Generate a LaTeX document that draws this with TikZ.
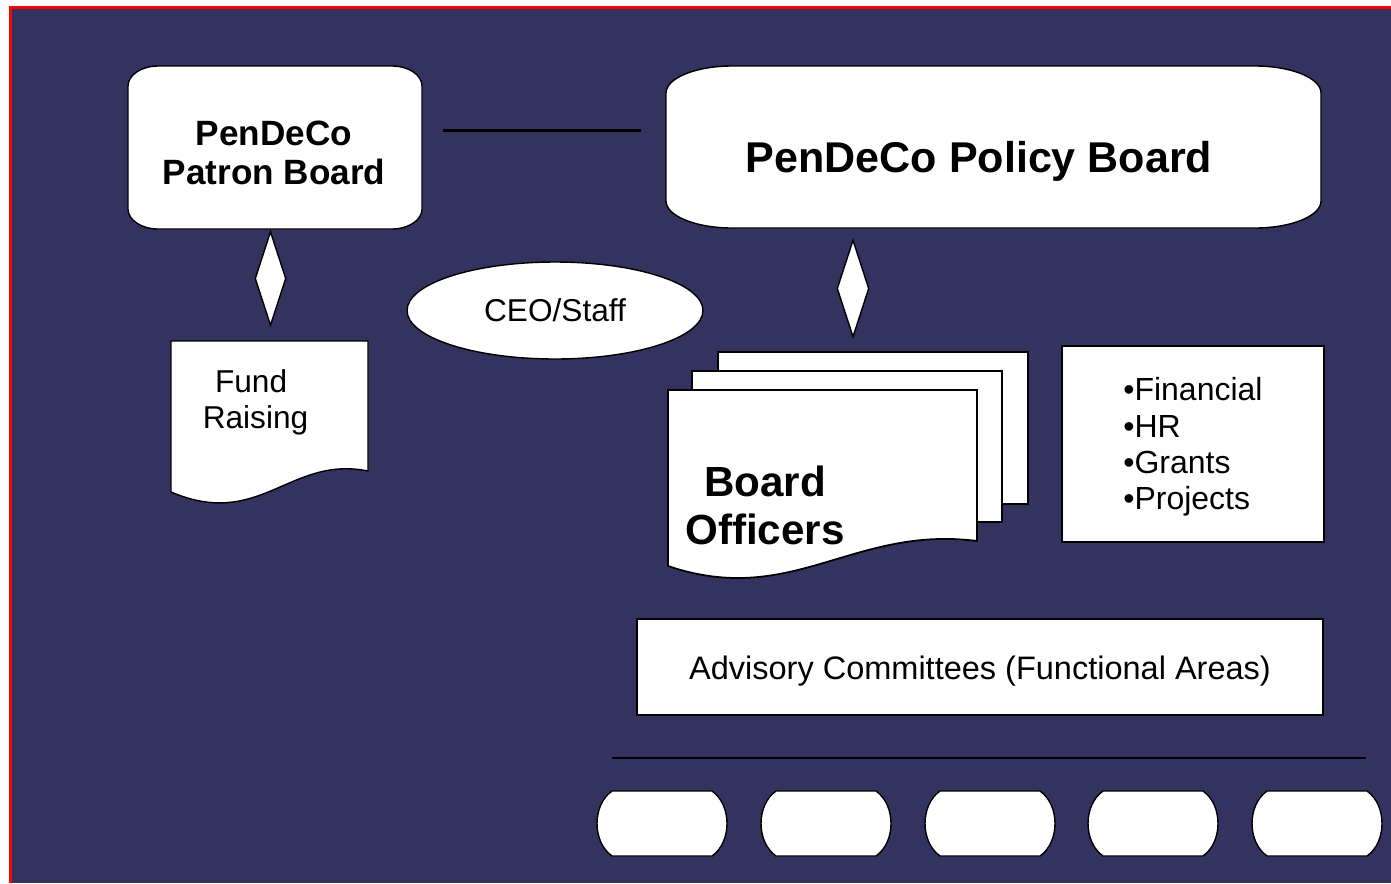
\documentclass[tikz,border=0pt]{standalone}
\usepackage{fontspec}
\setmainfont{Liberation Sans}
\usetikzlibrary{shapes.geometric}
\definecolor{navy}{RGB}{52,51,96}

\begin{document}
\begin{tikzpicture}[
        x=0.02cm, y=-0.02cm,
        boxline/.style={draw=black, fill=white, line width=0.8pt},
        plaintext/.style={inner sep=0pt, font=\fontsize{18}{20.4}\selectfont},
        heading/.style={inner sep=0pt, font=\bfseries\fontsize{24}{27.2}\selectfont},
        link/.style={line width=1.2pt},
        gem/.style={shape=diamond, boxline, inner sep=0pt, minimum width=0.62cm, minimum height=1.88cm}
    ]
    \useasboundingbox (0,0) rectangle (1391,883);
    \fill[white] (0,0) rectangle (1391,883);
    \fill[navy] (10.5,7.5) rectangle (1391,883);
    \draw[red, line width=0.06cm] (10.5,883) -- (10.5,7.5) -- (1391,7.5);

    % boards
    \draw[boxline] (128,86) .. controls (128,75) and (141.4,66) .. (158,66) -- (392,66)
        .. controls (408.6,66) and (422,75) .. (422,86) -- (422,209)
        .. controls (422,220) and (408.6,229) .. (392,229) -- (158,229)
        .. controls (141.4,229) and (128,220) .. (128,209) -- cycle;
    \draw[boxline] (666,93) .. controls (666,78.1) and (695.6,66) .. (732,66) -- (1255,66)
        .. controls (1291.4,66) and (1321,78.1) .. (1321,93) -- (1321,201)
        .. controls (1321,215.9) and (1291.4,228) .. (1255,228) -- (732,228)
        .. controls (695.6,228) and (666,215.9) .. (666,201) -- cycle;
    \node[align=center, inner sep=0pt, font=\bfseries\fontsize{20}{22.1}\selectfont] (patron) at (274,152.6) {PenDeCo\\Patron Board};
    \node[anchor=base, inner sep=0pt, font=\bfseries\fontsize{24.5}{28}\selectfont] (policy) at (979,172) {PenDeCo Policy Board};

    \coordinate (tieL) at (443,130.5);
    \coordinate (tieR) at (641,130.5);
    \draw[link] (tieL) -- (tieR);

    \node[gem] (gemL) at (270.5,278.5) {};
    \node[gem, minimum width=0.64cm, minimum height=1.94cm] (gemR) at (853,288.5) {};

    \node[boxline, ellipse, inner sep=0pt, minimum width=5.92cm, minimum height=1.94cm, plaintext] (ceo) at (555,310.5) {CEO/Staff};

    % fund raising
    \draw[boxline] (171,341) -- (368,341) -- (368,471) .. controls (290,455) and (260,530) .. (171,492) -- cycle;
    \node[plaintext, align=center] (fund) at (255.5,402.7) {Fund\hspace*{0.28em}\\Raising};

    % board officers
    \draw[boxline, line width=1pt] (718,352) rectangle (1028,504);
    \draw[boxline, line width=1pt] (692,371) rectangle (1002,522);
    \draw[boxline, line width=1pt] (668,390) -- (977,390) -- (977,541) .. controls (853,525) and (792,608) .. (668,566) -- cycle;
    \node[heading, align=center] (officers) at (765,505.5) {Board\\Officers};

    \draw[boxline, line width=1.4pt] (1062,346) rectangle (1324,542);
    \node[plaintext, align=left, anchor=west, font=\fontsize{18.2}{20.6}\selectfont] (areas) at (1123,447) {•Financial\\•HR\\•Grants\\•Projects};

    \draw[boxline, line width=1.1pt] (637,619) rectangle (1323,715);
    \node[plaintext, anchor=base, font=\fontsize{18.5}{21}\selectfont] (advisory) at (980,679) {Advisory Committees (Functional Areas)};

    \coordinate (railL) at (612,758);
    \coordinate (railR) at (1366,758);
    \draw[link] (railL) -- (railR);

    \foreach \x in {597,761,925,1088,1252}
        \draw[boxline] ({\x+15},791) -- ({\x+115},791) .. controls ({\x+135},805) and ({\x+135},842) .. ({\x+115},856)
            -- ({\x+15},856) .. controls ({\x-5},842) and ({\x-5},805) .. ({\x+15},791) -- cycle;

\end{tikzpicture}
\end{document}
